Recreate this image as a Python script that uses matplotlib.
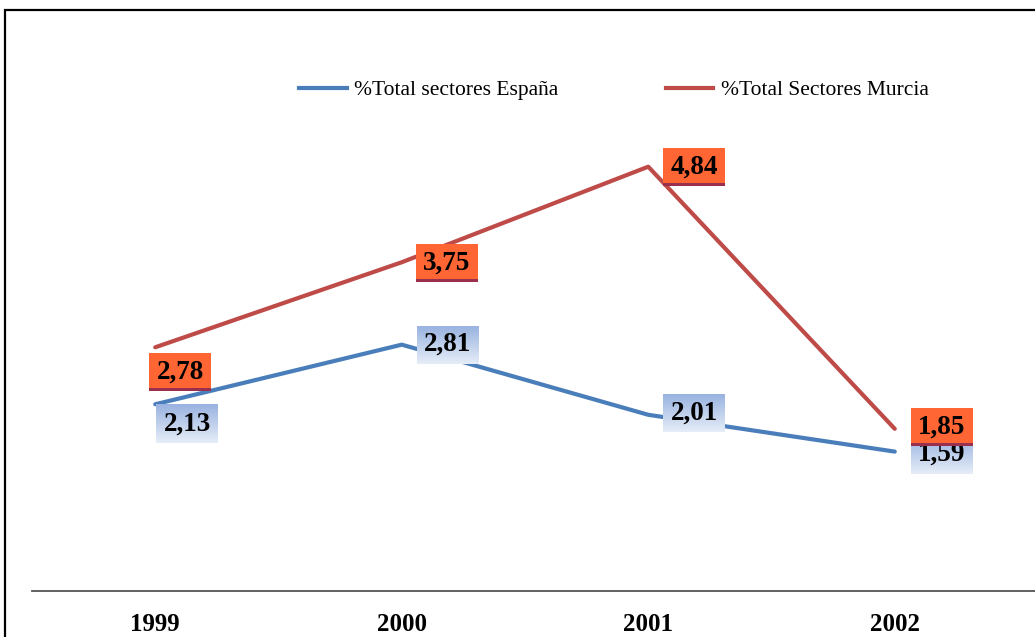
import numpy as np
import matplotlib
matplotlib.use("Agg")
import matplotlib.pyplot as plt
from matplotlib.patches import Rectangle
from matplotlib.lines import Line2D

años = ["1999", "2000", "2001", "2002"]
espana = [2.13, 2.81, 2.01, 1.59]
murcia = [2.78, 3.75, 4.84, 1.85]
etiquetas_espana = ["2,13", "2,81", "2,01", "1,59"]
etiquetas_murcia = ["2,78", "3,75", "4,84", "1,85"]

azul = "#4A7EBB"
rojo = "#BE4B48"
naranja = "#FF6633"

# desplazamiento de cada etiqueta respecto a su punto (pixeles)
desp_espana = [(32, -20), (46, 0), (46, 2), (47, -3)]
desp_murcia = [(25, -25), (45, -1), (46, 0), (47, 2)]

fig = plt.figure(figsize=(10.35, 6.37), dpi=100)
ax = fig.add_axes([32 / 1035, 1 - 591 / 637, 1 - 32 / 1035, (591 - 65) / 637])

x = np.arange(len(años))
ax.plot(x, espana, color=azul, lw=3, solid_capstyle="round", zorder=3)
ax.plot(x, murcia, color=rojo, lw=3, solid_capstyle="round", zorder=3)

ax.set_xlim(-0.5, -0.5 + (1035 - 32) / 246.5)
ax.set_ylim(0, 6)
ax.set_xticks(x)
ax.set_xticklabels(años, fontfamily="Liberation Serif", fontweight="bold", fontsize=18)
ax.tick_params(axis="x", length=0, pad=16)
ax.set_yticks([])
for s in ["left", "right", "top"]:
    ax.spines[s].set_visible(False)
ax.spines["bottom"].set_color("#555555")
ax.spines["bottom"].set_linewidth(1.3)

fig.canvas.draw()
a_datos = ax.transData.inverted()


def caja(xi, yi, d, tipo, texto):
    cx, cy = ax.transData.transform((xi, yi))
    cx += d[0]
    cy += d[1]
    w, h = 31, 19
    (x0, y0) = a_datos.transform((cx - w, cy - h))
    (x1, y1) = a_datos.transform((cx + w, cy + h))
    if tipo == "azul":
        grad = np.linspace(0, 1, 64).reshape(-1, 1)
        arriba = np.array([0.60, 0.70, 0.88])
        abajo = np.array([0.90, 0.93, 0.97])
        img = abajo + (arriba - abajo) * grad[..., None]
        img = np.repeat(img, 2, axis=1)
        ax.imshow(img, extent=(x0, x1, y0, y1), origin="lower", aspect="auto",
                  interpolation="bilinear", zorder=4)
        z = 4
    else:
        ax.add_patch(Rectangle((x0, y0), x1 - x0, y1 - y0, facecolor=naranja,
                               edgecolor="none", zorder=5))
        (_, yb) = a_datos.transform((cx, cy - h + 3))
        ax.add_patch(Rectangle((x0, y0), x1 - x0, yb - y0, facecolor="#9B2F4E",
                               edgecolor="none", zorder=5))
        z = 5
    xc, yc = a_datos.transform((cx, cy))
    ax.text(xc, yc, texto, ha="center", va="center", fontfamily="Liberation Serif",
            fontweight="bold", fontsize=19.5, color="black", zorder=z + 0.5)


for i in range(len(años)):
    caja(x[i], espana[i], desp_espana[i], "azul", etiquetas_espana[i])
for i in range(len(años)):
    caja(x[i], murcia[i], desp_murcia[i], "naranja", etiquetas_murcia[i])

ax.set_xlim(-0.5, -0.5 + (1035 - 32) / 246.5)
ax.set_ylim(0, 6)

manijas = [Line2D([], [], color=azul, lw=3), Line2D([], [], color=rojo, lw=3)]
fig.legend(manijas, ["%Total sectores España", "%Total Sectores Murcia"],
           loc="center", bbox_to_anchor=(614 / 1035, 1 - 90 / 637), ncol=2,
           frameon=False, handlelength=2.2, handletextpad=0.35, columnspacing=5.0,
           prop={"family": "Liberation Serif", "size": 15.5})

# marco exterior
fig.patches.append(Rectangle((5 / 1035, -0.5), 2, 0.5 + 1 - 10 / 637,
                             transform=fig.transFigure, fill=False,
                             edgecolor="black", lw=1.6))

fig.savefig("out.png", dpi=100)
